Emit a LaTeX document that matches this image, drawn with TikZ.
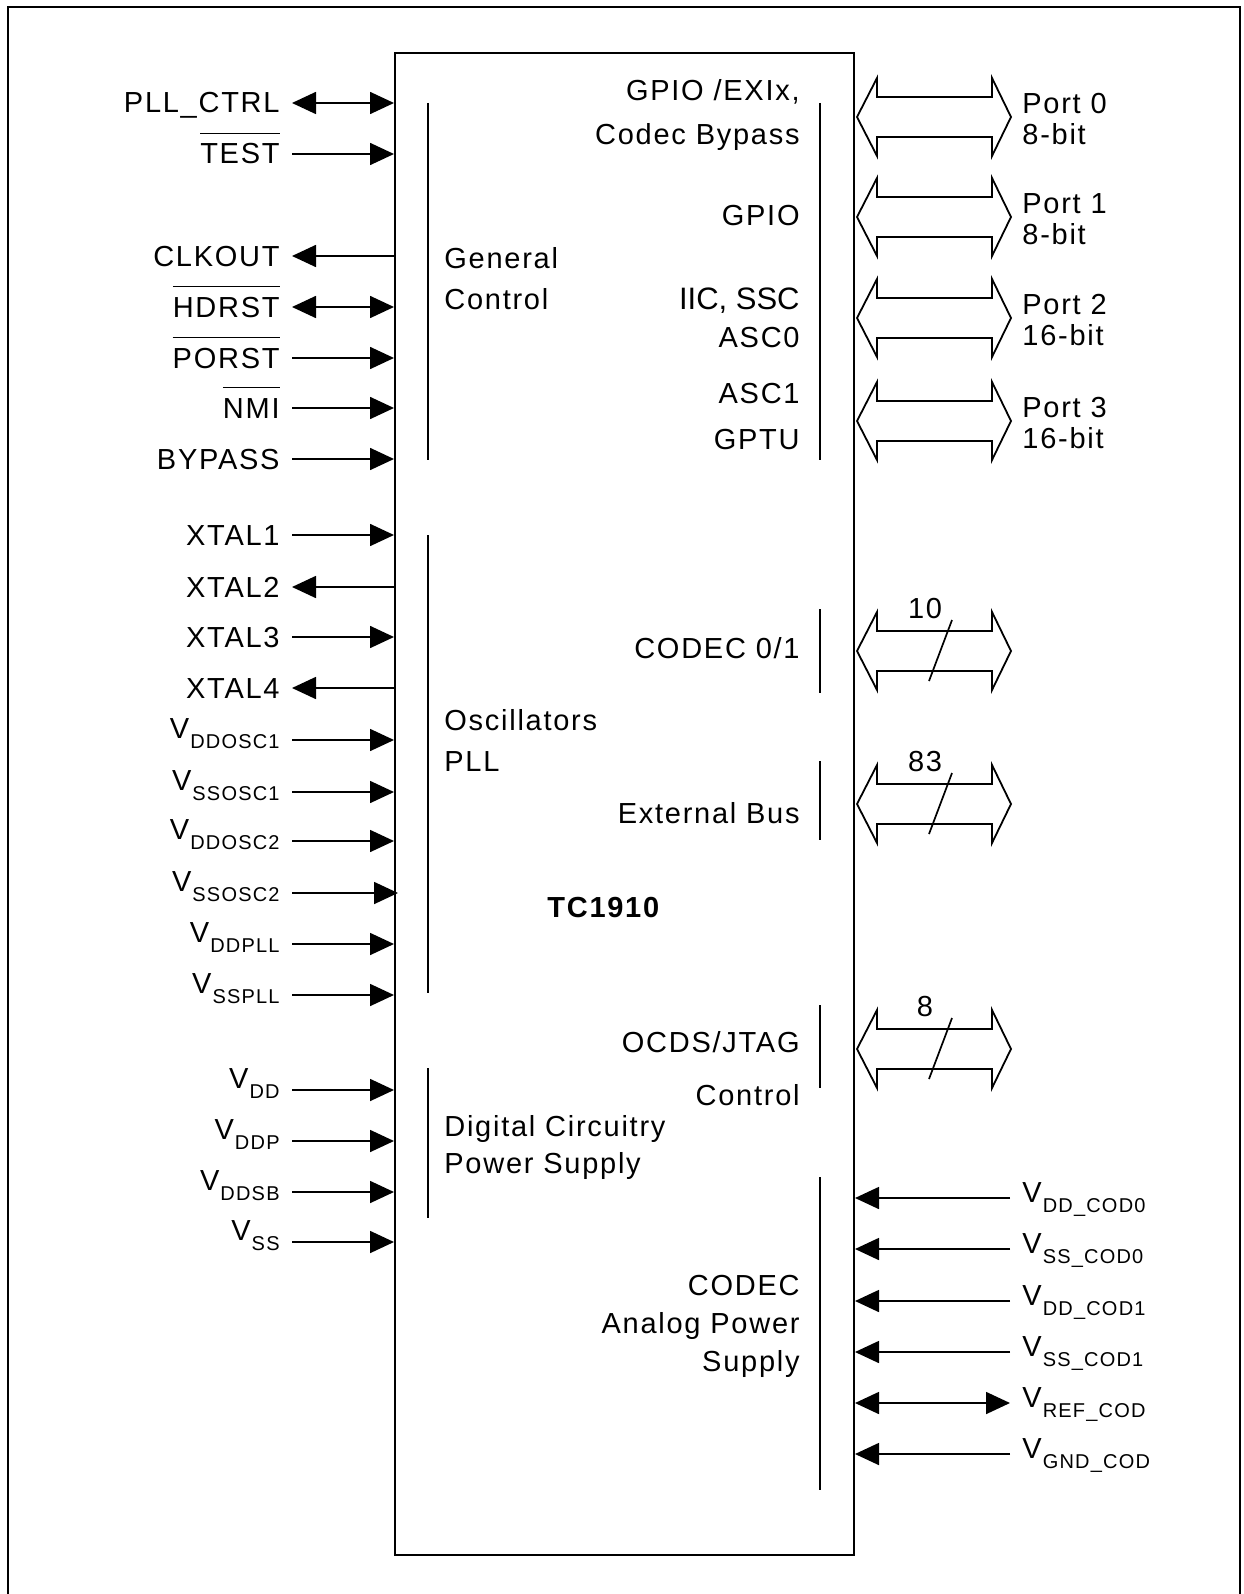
\documentclass[tikz,border=0pt]{standalone}
\usepackage{fontspec}
\setmainfont{Liberation Sans}[LetterSpace=6]
\newfontfamily\plainfont{Liberation Sans}
\usetikzlibrary{arrows.meta}

% supply pin name: V with lowered index
\newcommand\vsub[1]{V\kern0.5pt\raisebox{-5pt}{\fontsize{10pt}{12pt}\selectfont #1}}
% active low signal
\newcommand\lowact[1]{\setbox0\hbox{#1}\rlap{\raisebox{15pt}{\rule{\wd0}{0.7pt}}}\box0}

\tikzset{
  pinin/.style={-{Triangle[length=12pt,width=11pt]}, line width=0.85pt},
  pinout/.style={{Triangle[length=12pt,width=11pt]}-, line width=0.85pt},
  pinboth/.style={{Triangle[length=12pt,width=11pt]}-{Triangle[length=12pt,width=11pt]}, line width=0.85pt},
  grpline/.style={line width=1pt},
  buspath/.style={line width=0.9pt, line join=miter},
  busarr/.pic={
    \draw[buspath] (2,0) -- (22,-39) -- (22,-20) -- (137,-20) -- (137,-39) -- (156,0)
      -- (137,39) -- (137,20) -- (22,20) -- (22,39) -- cycle;
  }
}

\begin{document}
\begin{tikzpicture}[x=0.5pt, y=-0.5pt, font=\fontsize{14.5pt}{18pt}\selectfont,
    every node/.append style={inner sep=0pt}]
  \useasboundingbox (0,0) rectangle (1243,1594);
  % frame
  \draw[line width=1.35pt] (8,1594) -- (8,7) -- (1240,7) -- (1240,1594);
  \node[draw, line width=1pt, minimum width=229.5pt, minimum height=751pt, anchor=north west] (chip) at (394,52) {};

  % left pins
  \foreach \y/\txt/\dir [count=\i] in {103/PLL\_CTRL/pinboth, 154/\lowact{TEST}/pinin,
      256/CLKOUT/pinout, 307/\lowact{HDRST}/pinboth, 358/\lowact{PORST}/pinin,
      408/\lowact{NMI}/pinin, 459/BYPASS/pinin, 535/XTAL1/pinin, 587/XTAL2/pinout,
      637/XTAL3/pinin, 688/XTAL4/pinout} {
    \node[anchor=base east] (l\i) at (280,\y+10) {\txt};
    \coordinate (s\i) at (292,\y);
    \draw[\dir] (s\i) -- (s\i -| chip.west);
  }
  \foreach \y/\txt [count=\i] in {740/DDOSC1, 792/SSOSC1, 841/DDOSC2, 944/DDPLL, 995/SSPLL,
      1090/DD, 1141/DDP, 1192/DDSB, 1242/SS} {
    \node[anchor=base east] (v\i) at (280,\y-2) {\vsub{\txt}};
    \coordinate (t\i) at (292,\y);
    \draw[pinin] (t\i) -- (t\i -| chip.west);
  }
  \node[anchor=base east] (vssosc2) at (280,891) {\vsub{SSOSC2}};
  \coordinate (tosc2) at (292,893);
  \draw[pinin] (tosc2) -- ([xshift=2pt]tosc2 -| chip.west);

  % right supply pins
  \foreach \y/\txt/\dir [count=\i] in {1198/DD\_COD0/pinin, 1249/SS\_COD0/pinin,
      1301/DD\_COD1/pinin, 1352/SS\_COD1/pinin, 1403/REF\_COD/pinboth, 1454/GND\_COD/pinin} {
    \node[anchor=base west] (c\i) at (1022,\y+4) {\vsub{\txt}};
    \coordinate (r\i) at (1010,\y);
    \draw[\dir] (r\i) -- (r\i -| chip.east);
  }

  % ports
  \foreach \y/\txt [count=\i] in {117/{Port 0\\8-bit}, 217/{Port 1\\8-bit},
      318/{Port 2\\16-bit}, 421/{Port 3\\16-bit}} {
    \pic at (chip.east |- 0,\y) {busarr};
    \node[anchor=west, align=left, font=\fontsize{14.5pt}{15.5pt}\selectfont] (port\i) at (1022,\y+2) {\txt};
  }
  % buses with width
  \foreach \y/\w in {651/10, 804/83, 1049/8} {
    \pic at (chip.east |- 0,\y) {busarr};
    \node (w\w) at (925,\y-42) {\w};
    \draw[line width=0.85pt] (952,\y-31) -- (929,\y+30);
  }

  % function groups
  \draw[grpline] (428,103) -- (428,460);
  \draw[grpline] (428,535) -- (428,993);
  \draw[grpline] (428,1068) -- (428,1218);
  \draw[grpline] (820,103) -- (820,460);
  \draw[grpline] (820,609) -- (820,693);
  \draw[grpline] (820,761) -- (820,840);
  \draw[grpline] (820,1005) -- (820,1088);
  \draw[grpline] (820,1177) -- (820,1490);

  \node[anchor=base west] (gen) at (444,268) {General};
  \node[anchor=base west] (ctl) at (444,309) {Control};
  \node[anchor=base west] (osc) at (444,730) {Oscillators};
  \node[anchor=base west] (pll) at (444,771) {PLL};
  \node[anchor=base west] (dig) at (444,1136) {Digital Circuitry};
  \node[anchor=base west] (pws) at (444,1173) {Power Supply};
  \node[anchor=base west] (name) at (547,917) {\textbf{TC1910}};

  \node[anchor=base east] (gpio0) at (800,101) {GPIO /EXIx,};
  \node[anchor=base east] (byp) at (800,145) {Codec Bypass};
  \node[anchor=base east] (gpio1) at (800,226) {GPIO};
  \node[anchor=base east] (iic) at (800,309) {\plainfont\fontsize{15.5pt}{18pt}\selectfont IIC, SSC};
  \node[anchor=base east] (asc0) at (800,347) {ASC0};
  \node[anchor=base east] (asc1) at (800,403) {ASC1};
  \node[anchor=base east] (gptu) at (800,449) {GPTU};
  \node[anchor=base east] (codec) at (800,658) {CODEC 0/1};
  \node[anchor=base east] (ebu) at (800,823) {External Bus};
  \node[anchor=base east] (ocds) at (800,1052) {OCDS/JTAG};
  \node[anchor=base east] (jctl) at (800,1105) {Control};
  \node[anchor=base east] (apw1) at (800,1295) {CODEC};
  \node[anchor=base east] (apw2) at (800,1333) {Analog Power};
  \node[anchor=base east] (apw3) at (800,1371) {Supply};
\end{tikzpicture}
\end{document}
